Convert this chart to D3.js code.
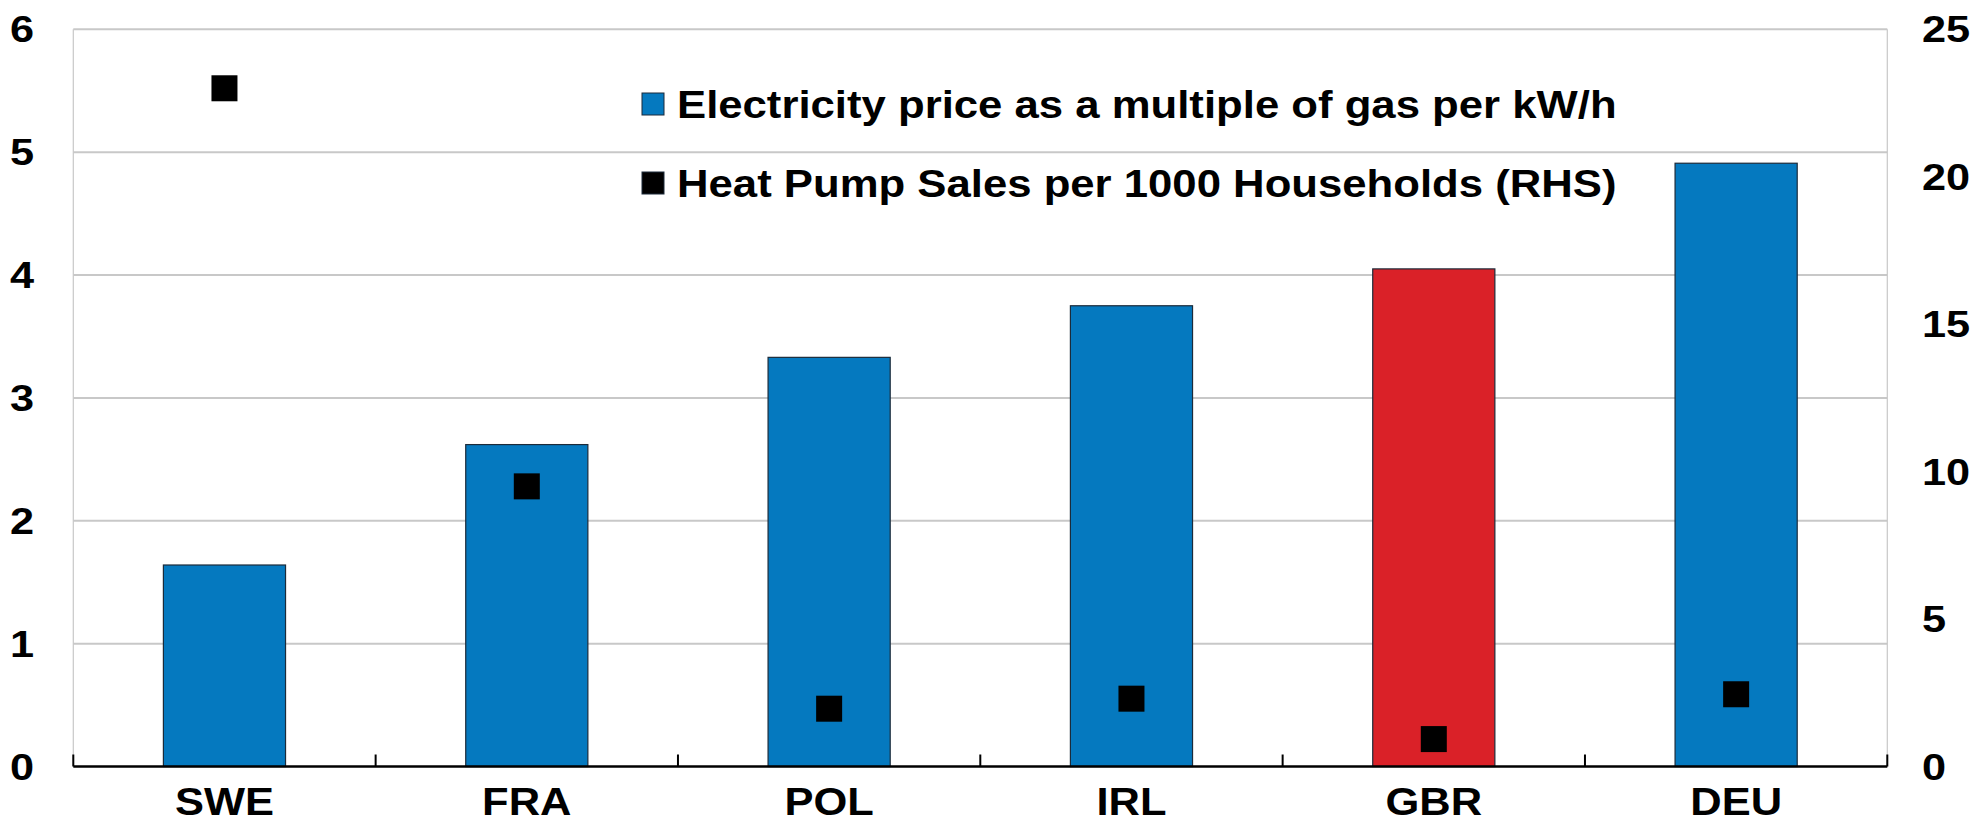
<!DOCTYPE html>
<html>
<head>
<meta charset="utf-8">
<script src="https://cdn.jsdelivr.net/npm/d3@7"></script>
<style>
  html, body { margin: 0; padding: 0; background: #fff; }
  svg { display: block; font-family: "Liberation Sans", Arial, sans-serif; font-weight: bold; }
</style>
</head>
<body>
<div id="chart"></div>
<script>
const categories = ["SWE", "FRA", "POL", "IRL", "GBR", "DEU"];
const priceRatio = [1.64, 2.62, 3.33, 3.75, 4.05, 4.91];
const heatPumpSales = [23.0, 9.5, 1.96, 2.3, 0.93, 2.45];
const leftTicks = [0, 1, 2, 3, 4, 5, 6];
const rightTicks = [0, 5, 10, 15, 20, 25];
const legendLabels = [
  "Electricity price as a multiple of gas per kW/h",
  "Heat Pump Sales per 1000 Households (RHS)"
];
const highlight = "GBR";

const BLUE = "#0579bf";
const RED = "#da2128";
const GRID = "#c8c8c8";
const STRETCH = 1.17; // the original text is drawn a bit wide

const width = 1984;
const height = 822;
const margin = { top: 29.3, right: 96.7, bottom: 55.5, left: 73.3 };

const svg = d3
  .select("#chart")
  .append("svg")
  .attr("width", width)
  .attr("height", height);

const x = d3
  .scaleBand()
  .domain(categories)
  .range([margin.left, width - margin.right])
  .paddingInner(0.596)
  .paddingOuter(0.298);

const band = d3
  .scaleBand()
  .domain(categories)
  .range([margin.left, width - margin.right]);

const yLeft = d3.scaleLinear().domain([0, 6]).range([height - margin.bottom, margin.top]);
const yRight = d3.scaleLinear().domain([0, 25]).range([height - margin.bottom, margin.top]);

function wideText(sel, px, py, sx) {
  return sel.attr("transform", "translate(" + px + "," + py + ") scale(" + sx + ",1)");
}

// gridlines
svg
  .append("g")
  .selectAll("line")
  .data(leftTicks.filter(function (d) { return d > 0; }))
  .enter()
  .append("line")
  .attr("x1", margin.left)
  .attr("x2", width - margin.right)
  .attr("y1", function (d) { return yLeft(d); })
  .attr("y2", function (d) { return yLeft(d); })
  .attr("stroke", GRID)
  .attr("stroke-width", 2);

// side borders
[margin.left, width - margin.right].forEach(function (px) {
  svg
    .append("line")
    .attr("x1", px)
    .attr("x2", px)
    .attr("y1", yLeft(6))
    .attr("y2", yLeft(0))
    .attr("stroke", GRID)
    .attr("stroke-width", 1.2);
});

// bars
svg
  .append("g")
  .selectAll("rect")
  .data(categories)
  .enter()
  .append("rect")
  .attr("x", function (d) { return x(d); })
  .attr("width", x.bandwidth())
  .attr("y", function (d, i) { return yLeft(priceRatio[i]); })
  .attr("height", function (d, i) { return yLeft(0) - yLeft(priceRatio[i]); })
  .attr("fill", function (d) { return d === highlight ? RED : BLUE; })
  .attr("stroke", "#1c2b3a")
  .attr("stroke-width", 1.2);

// heat pump markers
const markerSize = 26;
svg
  .append("g")
  .selectAll("rect")
  .data(categories)
  .enter()
  .append("rect")
  .attr("x", function (d) { return band(d) + band.bandwidth() / 2 - markerSize / 2; })
  .attr("y", function (d, i) { return yRight(heatPumpSales[i]) - markerSize / 2; })
  .attr("width", markerSize)
  .attr("height", markerSize)
  .attr("fill", "#000");

// x axis with ticks on category boundaries
const xAxis = svg.append("g").attr("transform", "translate(0," + yLeft(0) + ")");
xAxis
  .append("line")
  .attr("x1", margin.left)
  .attr("x2", width - margin.right)
  .attr("stroke", "#000")
  .attr("stroke-width", 2.5);
const boundaries = categories.map(function (d) { return band(d); }).concat([width - margin.right]);
xAxis
  .selectAll("line.tick")
  .data(boundaries)
  .enter()
  .append("line")
  .attr("class", "tick")
  .attr("x1", function (d) { return d; })
  .attr("x2", function (d) { return d; })
  .attr("y1", 0)
  .attr("y2", -12)
  .attr("stroke", "#000")
  .attr("stroke-width", 2);
xAxis
  .selectAll("text")
  .data(categories)
  .enter()
  .append("text")
  .each(function (d) {
    wideText(d3.select(this), band(d) + band.bandwidth() / 2, 48.5, 1.13);
  })
  .attr("text-anchor", "middle")
  .attr("font-size", 38.5)
  .text(function (d) { return d; });

// left axis labels
svg
  .append("g")
  .selectAll("text")
  .data(leftTicks)
  .enter()
  .append("text")
  .each(function (d) {
    wideText(d3.select(this), 34, yLeft(d) + 13, STRETCH);
  })
  .attr("text-anchor", "end")
  .attr("font-size", 37)
  .text(function (d) { return d; });

// right axis labels
svg
  .append("g")
  .selectAll("text")
  .data(rightTicks)
  .enter()
  .append("text")
  .each(function (d) {
    wideText(d3.select(this), 1922, yRight(d) + 13, STRETCH);
  })
  .attr("text-anchor", "start")
  .attr("font-size", 37)
  .text(function (d) { return d; });

// legend
const legend = svg.append("g");
const legendColors = [BLUE, "#000"];
legendLabels.forEach(function (label, i) {
  const yy = 93 + i * 79;
  legend
    .append("rect")
    .attr("x", 642)
    .attr("y", yy)
    .attr("width", 22)
    .attr("height", 22)
    .attr("fill", legendColors[i])
    .attr("stroke", "#1c2b3a")
    .attr("stroke-width", 1);
  legend
    .append("text")
    .call(wideText, 677, yy + 25, 1.15)
    .attr("font-size", 38)
    .text(label);
});
</script>
</body>
</html>
